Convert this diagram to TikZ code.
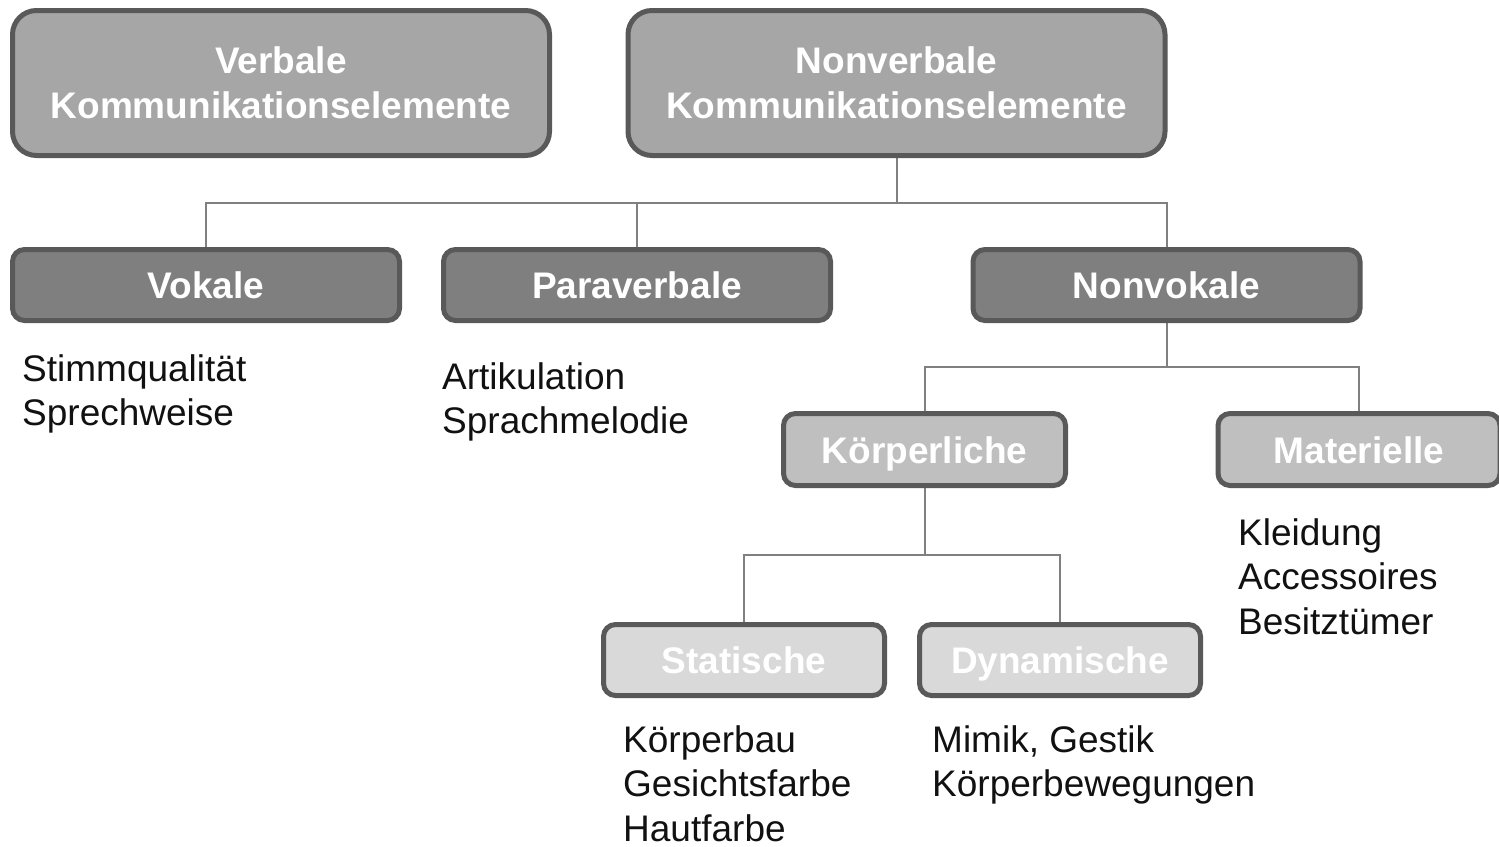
\documentclass[tikz,border=0pt]{standalone}
\usepackage{fontspec}
\setmainfont{Liberation Sans}
\usetikzlibrary{calc,backgrounds}
\definecolor{bordergray}{HTML}{595959}
\definecolor{fillA}{HTML}{A6A6A6}
\definecolor{fillB}{HTML}{7F7F7F}
\definecolor{fillC}{HTML}{BFBFBF}
\definecolor{fillD}{HTML}{D9D9D9}
\definecolor{conngray}{HTML}{808080}
\definecolor{bodytext}{HTML}{111111}
\tikzset{
  box/.style={draw=bordergray, line width=5pt, rounded corners=12pt, inner sep=0pt,
    text=white, align=center, font=\fontsize{37}{45}\selectfont\bfseries},
  onebox/.style={box, text height=27pt, text depth=0pt},
  topbox/.style={box, fill=fillA, rounded corners=24pt, minimum width=537pt, minimum height=145pt},
  lvltwo/.style={onebox, fill=fillB, minimum width=387pt, minimum height=71pt},
  lvlthree/.style={onebox, fill=fillC, minimum width=282pt, minimum height=72pt},
  lvlfour/.style={onebox, fill=fillD, minimum width=281pt, minimum height=71pt},
  listtext/.style={anchor=base west, inner sep=0pt, align=left, text=bodytext,
    font=\fontsize{37}{44.5}\selectfont},
  conn/.style={draw=conngray, line width=2pt}
}
\begin{document}
\begin{tikzpicture}[x=1pt,y=-1pt]
\useasboundingbox (0,0) rectangle (1499,846);
\node[topbox] (verb) at (281,83) {Verbale\\Kommunikationselemente};
\node[topbox] (nv) at (896.5,83) {Nonverbale\\Kommunikationselemente};
\node[lvltwo] (vok) at (206,285) {Vokale};
\node[lvltwo] (para) at (637,285) {Paraverbale};
\node[lvltwo] (nvk) at (1166.5,285) {Nonvokale};
\node[lvlthree] (koer) at (924.5,449.5) {Körperliche};
\node[lvlthree] (mat) at (1359,449.5) {Materielle};
\node[lvlfour] (stat) at (744,660) {Statische};
\node[lvlfour] (dyn) at (1060,660) {Dynamische};
\begin{pgfonlayer}{background}
\foreach \p/\c in {nv/vok, nv/para, nv/nvk, nvk/koer, nvk/mat, koer/stat, koer/dyn}{
  \draw[conn] (\p.south) |- ($(\p.south)!.5!(\c.north)$) -| (\c.north);
}
\end{pgfonlayer}
\node[listtext] (l1) at (22,425.5) {Stimmqualität\\Sprechweise};
\node[listtext] (l2) at (442,433.5) {Artikulation\\Sprachmelodie};
\node[listtext] (l3) at (1238,634) {Kleidung\\Accessoires\\Besitztümer};
\node[listtext] (l4) at (623,841) {Körperbau\\Gesichtsfarbe\\Hautfarbe};
\node[listtext] (l5) at (932,796.5) {Mimik, Gestik\\Körperbewegungen};
\end{tikzpicture}
\end{document}
